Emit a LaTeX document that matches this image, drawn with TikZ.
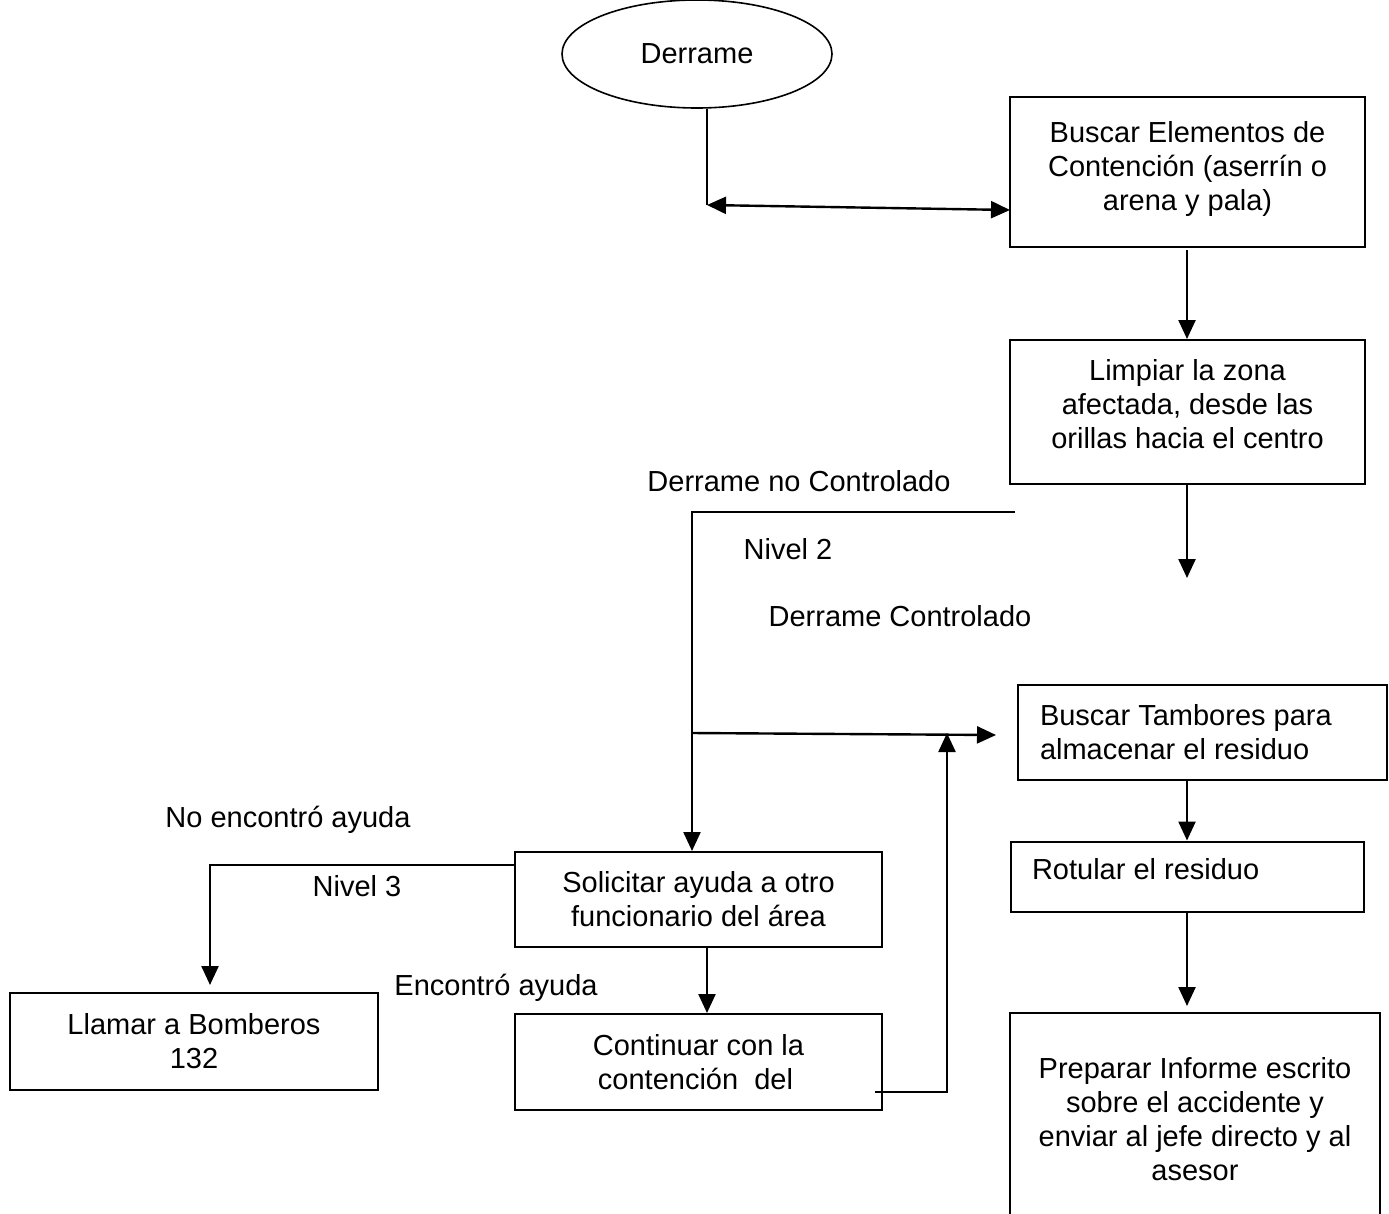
\documentclass[tikz,border=0pt]{standalone}
\usepackage{fontspec}
\setmainfont{Liberation Sans}
\usetikzlibrary{shapes.geometric,arrows.meta,calc}
\begin{document}
\begin{tikzpicture}[x=1pt,y=-1pt,
  every node/.style={font=\fontsize{29}{34}\selectfont, inner sep=0pt},
  box/.style={draw, line width=2pt, rectangle, align=center},
  lbox/.style={draw, line width=2pt, rectangle, align=flush left},
  conn/.style={line width=2.4pt},
  arr/.style={line width=2.4pt, -{Triangle[length=19pt,width=17pt]}},
  darr/.style={line width=2.4pt, {Triangle[length=19pt,width=17pt]}-{Triangle[length=19pt,width=17pt]}},
  lbl/.style={}]
\useasboundingbox (0,0) rectangle (1389,1213);
\fill[white] (0,0) rectangle (1389,1213);

% nodes
\node[draw, line width=1.6pt, ellipse, minimum width=270pt, minimum height=108pt] (e) at (697,54) {Derrame};
\node[box, minimum width=355pt, minimum height=150pt] (b1) at (1187.5,172) {Buscar Elementos de\\Contención (aserrín o\\arena y pala)\\[-22pt]\mbox{}};
\node[box, minimum width=355pt, minimum height=144pt] (b2) at (1187.5,412) {Limpiar la zona\\afectada, desde las\\orillas hacia el centro\\[-18pt]\mbox{}};
\node[lbox, minimum width=369pt, minimum height=95pt, text width=325pt, inner xsep=22pt] (bt) at (1202.5,732.5) {Buscar Tambores para\\almacenar el residuo};
\node[lbox, minimum width=353pt, minimum height=70pt, text width=311pt, inner xsep=21pt] (ro) at (1187.5,876.5) {Rotular el residuo\\[-18pt]\mbox{}};
\node[box, minimum width=370pt, minimum height=212pt] (pr) at (1195,1119) {Preparar Informe escrito\\sobre el accidente y\\enviar al jefe directo y al\\asesor};
\node[box, minimum width=367pt, minimum height=95pt] (so) at (698.5,899.5) {Solicitar ayuda a otro\\funcionario del área};
\node[box, minimum width=368pt, minimum height=97pt] (ll) at (194,1041.5) {Llamar a Bomberos\\132};
\node[box, minimum width=367pt, minimum height=96pt] (co) at (698.5,1062) {Continuar con la\\contención\ \ del\hspace*{6pt}};

% labels
\node[lbl] (l1) at (799,481) {Derrame no Controlado};
\node[lbl] (l2) at (788,549) {Nivel 2};
\node[lbl] (l3) at (900,616) {Derrame Controlado};
\node[lbl] (l4) at (288,820) {No encontró ayuda};
\node[lbl] (l5) at (357,886) {Nivel 3};
\node[lbl] (l6) at (496,988) {Encontró ayuda};

% free coordinates
\coordinate (c1) at (707,205);
\coordinate (c2) at (1010,210);
\coordinate (c3) at (1187,578);
\coordinate (c4) at (1015,512);
\coordinate (c5) at (692,733);
\coordinate (c6) at (996,735);
\coordinate (c7) at (875,1092);
\coordinate (c8) at (947,733);
\coordinate (c9) at (1187,1006);
\coordinate (c10) at (210,985);

% connectors
\draw[conn] ($(e.south)+(10,0)$) -- (c1);
\draw[darr] (c1) -- (c2);
\draw[arr] (1187,250) -- (b2.north -| 1187,0);
\draw[arr] (b2.south -| 1187,0) -- (c3);
\draw[arr] (c4) -- (692,512) -- (so.north -| 692,0);
\draw[arr] (c5) -- (c6);
\draw[arr] (c7) -| (c8);
\draw[arr] (bt.south -| 1187,0) -- (ro.north -| 1187,0);
\draw[arr] (ro.south -| 1187,0) -- (c9);
\draw[arr] (so.west |- 0,865) -| (c10);
\draw[arr] (so.south -| 707,0) -- (co.north -| 707,0);
\end{tikzpicture}
\end{document}
